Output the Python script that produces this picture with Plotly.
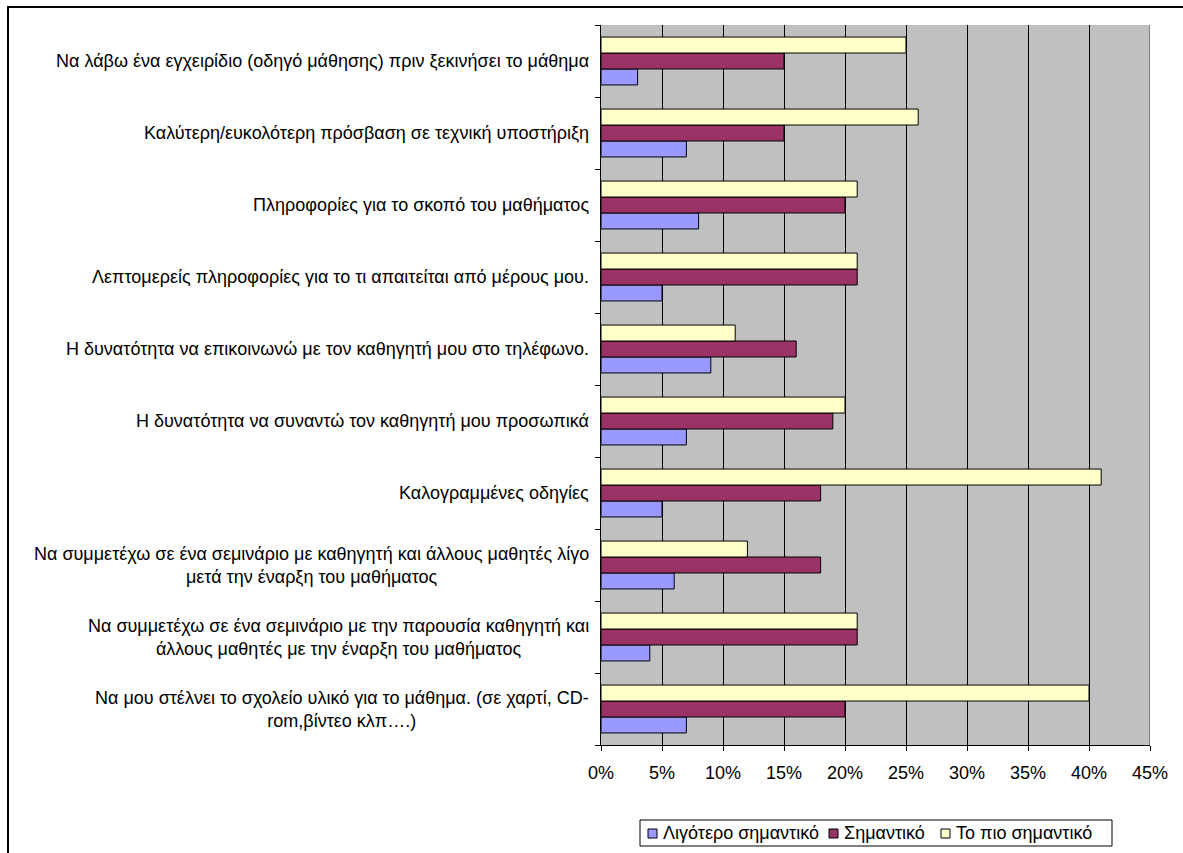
import plotly.graph_objects as go

# Survey items, listed top to bottom as they appear on the chart
categories = [
    "Να λάβω ένα εγχειρίδιο (οδηγό μάθησης) πριν ξεκινήσει το μάθημα",
    "Καλύτερη/ευκολότερη πρόσβαση σε τεχνική υποστήριξη",
    "Πληροφορίες για το σκοπό του μαθήματος",
    "Λεπτομερείς πληροφορίες για το τι απαιτείται από μέρους μου.",
    "Η δυνατότητα να επικοινωνώ με τον καθηγητή μου στο τηλέφωνο.",
    "Η δυνατότητα να συναντώ τον καθηγητή μου προσωπικά",
    "Καλογραμμένες οδηγίες",
    "Να συμμετέχω σε ένα σεμινάριο με καθηγητή και άλλους μαθητές λίγο<br>μετά την έναρξη του μαθήματος",
    "Να συμμετέχω σε ένα σεμινάριο με την παρουσία καθηγητή και<br>άλλους μαθητές με την έναρξη του μαθήματος",
    "Να μου στέλνει το σχολείο υλικό για το μάθημα. (σε χαρτί, CD-<br>rom,βίντεο κλπ….)",
]

series_names = ["Λιγότερο σημαντικό", "Σημαντικό", "Το πιο σημαντικό"]

less_important = [3, 7, 8, 5, 9, 7, 5, 6, 4, 7]
important = [15, 15, 20, 21, 16, 19, 18, 18, 21, 20]
most_important = [25, 26, 21, 21, 11, 20, 41, 12, 21, 40]

x_ticks = [0, 5, 10, 15, 20, 25, 30, 35, 40, 45]
x_tick_labels = ["0%", "5%", "10%", "15%", "20%", "25%", "30%", "35%", "40%", "45%"]

colors = ["#9999FF", "#993366", "#FFFFCC"]
FONT = "Liberation Sans, Arial, sans-serif"
FSIZE = 18

# Page geometry (pixels) of the plot area
W, H = 1183, 853
PL, PR, PT, PB = 601, 1150, 25, 745


def px(x):
    """Page x pixel -> paper coordinate."""
    return (x - PL) / (PR - PL)


def py(y):
    """Page y pixel -> paper coordinate."""
    return (PB - y) / (PB - PT)


# Category keys without the line breaks (used as y positions)
keys = [c.replace("<br>", " ") for c in categories]

fig = go.Figure()
for name, vals, col in zip(series_names,
                           [less_important, important, most_important],
                           colors):
    fig.add_trace(go.Bar(
        y=keys, x=vals, name=name, orientation="h",
        marker=dict(color=col, line=dict(color="black", width=1)),
        showlegend=False,
    ))

# Centered, wrapped category labels to the left of the axis
for key, text in zip(keys, categories):
    fig.add_annotation(
        x=0, xref="paper", y=key, yref="y",
        xanchor="right", yanchor="middle", xshift=-10,
        text=text, align="center", showarrow=False,
        font=dict(family=FONT, size=FSIZE, color="black"),
    )

# Outer chart frame (extends past the right and bottom edges)
fig.add_shape(type="rect", xref="paper", yref="paper",
              x0=px(8), x1=px(1190), y0=py(860), y1=py(7),
              line=dict(color="black", width=2), layer="above")
# Right edge of the plot area
fig.add_shape(type="line", xref="x", yref="paper",
              x0=45, x1=45, y0=0, y1=1,
              line=dict(color="#808080", width=2), layer="above")

# Legend box below the axis
fig.add_shape(type="rect", xref="paper", yref="paper",
              x0=px(640), x1=px(1112), y0=py(846), y1=py(820),
              line=dict(color="black", width=1), fillcolor="white",
              layer="above")
legend_x = [648, 829, 941]
for name, col, lx in zip(series_names, colors, legend_x):
    fig.add_shape(type="rect", xref="paper", yref="paper",
                  x0=px(lx), x1=px(lx + 9), y0=py(838), y1=py(829),
                  line=dict(color="black", width=1), fillcolor=col,
                  layer="above")
    fig.add_annotation(
        x=px(lx + 13), xref="paper", y=py(833), yref="paper",
        xanchor="left", yanchor="middle", text=name, showarrow=False,
        font=dict(family=FONT, size=FSIZE, color="black"),
    )

fig.update_layout(
    width=W, height=H,
    margin=dict(l=PL, r=W - PR, t=PT, b=H - PB, autoexpand=False),
    paper_bgcolor="white",
    plot_bgcolor="#C0C0C0",
    barmode="group",
    bargap=0.335,
    bargroupgap=0,
    font=dict(family=FONT, size=FSIZE, color="black"),
    showlegend=False,
    xaxis=dict(
        range=[0, 45], tickmode="array",
        tickvals=x_ticks, ticktext=x_tick_labels,
        showgrid=True, gridcolor="black", gridwidth=1,
        ticks="outside", ticklen=5, tickcolor="black",
        showline=True, linecolor="black", linewidth=1,
        zeroline=False, ticklabelstandoff=6,
        tickfont=dict(family=FONT, size=FSIZE, color="black"),
    ),
    yaxis=dict(
        type="category", categoryorder="array",
        categoryarray=list(reversed(keys)),
        showticklabels=False, tickson="boundaries",
        ticks="outside", ticklen=5, tickcolor="black",
        showline=True, linecolor="black", linewidth=1,
        showgrid=False,
    ),
)

fig.write_html("out.html")
